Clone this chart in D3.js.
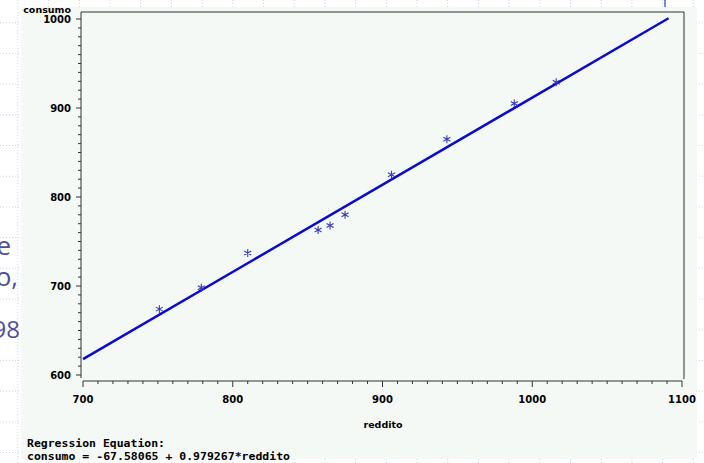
<!DOCTYPE html>
<html>
<head>
<meta charset="utf-8">
<script src="https://cdn.jsdelivr.net/npm/d3@7"></script>
<style>
  body { margin: 0; background: #fff; }
  svg { display: block; }
  .sas { font-family: "DejaVu Sans", sans-serif; font-weight: bold; fill: #000; }
  .mono { font-family: "DejaVu Sans Mono", monospace; font-weight: bold; fill: #000; }
</style>
</head>
<body>
<div id="chart"></div>
<script>
var reddito = [751, 779, 810, 857, 865, 875, 906, 943, 988, 1016];
var consumo = [674, 698, 737, 763, 768, 780, 825, 865, 905, 929];

// fitted regression
var intercept = -67.58065;
var slope = 0.979267;
var fitRange = [700, 1091];

var xTicks = [700, 800, 900, 1000, 1100];
var yTicks = [600, 700, 800, 900, 1000];

var equationLines = ["Regression Equation:", "consumo = -67.58065 + 0.979267*reddito"];
var slideText = [["e", 26, 11, 255], ["o,", 26, 18, 286], ["98", 24, 20, 338]];

function init() {

    var width = 704;
    var height = 463;

    var svg = d3.select("#chart")
        .append("svg")
        .attr("width", width)
        .attr("height", height);

    // slide behind the SAS window: faint dotted grid
    var grid = svg.append("g")
        .attr("stroke", "#c9d3ee")
        .attr("stroke-width", 1)
        .attr("stroke-dasharray", "1,2");
    d3.range(0, 24).forEach(function (i) {
        var x = 17.9 + i * 30.7;
        grid.append("line").attr("x1", x).attr("x2", x).attr("y1", 0).attr("y2", height);
    });
    d3.range(0, 15).forEach(function (i) {
        var y = 22.7 + i * 30.7;
        grid.append("line").attr("x1", 0).attr("x2", width).attr("y1", y).attr("y2", y);
    });
    svg.append("line")
        .attr("x1", 665).attr("x2", 665).attr("y1", 0).attr("y2", 8)
        .attr("stroke", "#4a5fd0").attr("stroke-width", 1.5);

    // slide text, partly hidden behind the SAS window
    slideText.forEach(function (t) {
        svg.append("text")
            .attr("x", t[2]).attr("y", t[3])
            .attr("text-anchor", "end")
            .style("font-family", "Open Sans, sans-serif")
            .style("font-size", t[1] + "px")
            .style("fill", "#4e4e9e")
            .text(t[0]);
    });

    // SAS graph window
    svg.append("rect")
        .attr("x", 21).attr("y", 7)
        .attr("width", 676).attr("height", 452)
        .attr("fill", "#f5f9f5");

    var x = d3.scaleLinear().domain([700, 1100]).range([83, 682]);
    var y = d3.scaleLinear().domain([600, 1000]).range([375, 19]);

    // frame (left, top, right)
    svg.append("path")
        .attr("d", "M81,378V12H684V379")
        .attr("fill", "none")
        .attr("stroke", "#333")
        .attr("stroke-width", 1);

    // y axis minor + major ticks
    var yAxis = svg.append("g");
    d3.range(600, 1001, 10).forEach(function (v) {
        var major = v % 100 === 0;
        yAxis.append("line")
            .attr("x1", major ? 76 : 78).attr("x2", 81)
            .attr("y1", y(v)).attr("y2", y(v))
            .attr("stroke", "#333").attr("stroke-width", 1);
    });
    yAxis.selectAll("text")
        .data(yTicks)
        .enter()
        .append("text")
        .attr("class", "sas")
        .attr("x", 71)
        .attr("y", function (d) { return y(d) + 4; })
        .attr("text-anchor", "end")
        .style("font-size", "10px")
        .text(function (d) { return d; });

    svg.append("text")
        .attr("class", "sas")
        .attr("x", 71).attr("y", 12.5)
        .attr("text-anchor", "end")
        .style("font-size", "9.5px")
        .text("consumo");

    // x axis
    var xAxis = svg.append("g");
    xAxis.append("line")
        .attr("x1", x(700)).attr("x2", x(1100))
        .attr("y1", 381).attr("y2", 381)
        .attr("stroke", "#333").attr("stroke-width", 1);
    d3.range(700, 1101, 10).forEach(function (v) {
        var major = v % 100 === 0;
        xAxis.append("line")
            .attr("x1", x(v)).attr("x2", x(v))
            .attr("y1", 381).attr("y2", major ? 387 : 384)
            .attr("stroke", "#333").attr("stroke-width", 1);
    });
    xAxis.selectAll("text")
        .data(xTicks)
        .enter()
        .append("text")
        .attr("class", "sas")
        .attr("x", function (d) { return x(d); })
        .attr("y", 403)
        .attr("text-anchor", "middle")
        .style("font-size", "10px")
        .text(function (d) { return d; });

    svg.append("text")
        .attr("class", "sas")
        .attr("x", 383).attr("y", 428)
        .attr("text-anchor", "middle")
        .style("font-size", "9.5px")
        .text("reddito");

    // regression line
    var line = d3.line()
        .x(function (d) { return x(d); })
        .y(function (d) { return y(intercept + slope * d); });
    svg.append("path")
        .datum(fitRange)
        .attr("d", line)
        .attr("fill", "none")
        .attr("stroke", "#0a0ad0")
        .attr("stroke-width", 2.5);

    // star markers
    var star = "M0,-4V4M-3.5,-2L3.5,2M-3.5,2L3.5,-2";
    svg.append("g")
        .selectAll("path")
        .data(reddito)
        .enter()
        .append("path")
        .attr("d", star)
        .attr("transform", function (d, i) {
            return "translate(" + x(d) + "," + y(consumo[i]) + ")";
        })
        .attr("fill", "none")
        .attr("stroke", "#3a3ab4")
        .attr("stroke-width", 1.1);

    // equation text
    var widths = [138, 263];
    equationLines.forEach(function (t, i) {
        svg.append("text")
            .attr("class", "mono")
            .attr("x", 27)
            .attr("y", 447 + i * 13)
            .attr("textLength", widths[i])
            .attr("lengthAdjust", "spacingAndGlyphs")
            .style("font-size", "10px")
            .text(t);
    });
}

window.onload = init;
</script>
</body>
</html>
